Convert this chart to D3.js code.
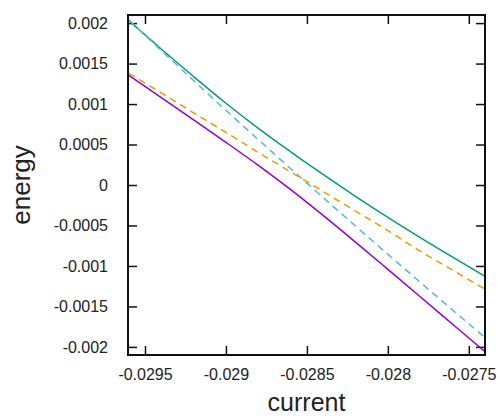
<!DOCTYPE html>
<html>
<head>
<meta charset="utf-8">
<script src="https://cdn.jsdelivr.net/npm/d3@7"></script>
<style>
  body { margin: 0; background: #fff; }
  text { font-family: "Liberation Sans", Arial, sans-serif; fill: #222; }
</style>
</head>
<body>
<div id="chart"></div>
<script>
// x positions (current)
var current = [-0.0296, -0.0294, -0.0292, -0.0290, -0.0288, -0.0286,
               -0.0284, -0.0282, -0.0280, -0.0278, -0.0276, -0.0274];

// series
var upper   = [0.00203, 0.00168, 0.00134, 0.00101, 0.0007, 0.00041,
               0.00013, -0.00014, -0.0004, -0.00065, -0.00089, -0.00113];
var lower   = [0.001355, 0.00108, 0.000805, 0.000527, 0.000242, -0.000058,
               -0.000376, -0.000706, -0.001042, -0.00138, -0.00172, -0.00206];
var diabA   = [0.00204, 0.001662, 0.00129, 0.000923, 0.00056, 0.000201,
               -0.000155, -0.000507, -0.000856, -0.001202, -0.001545, -0.001885];
var diabB   = [0.00138, 0.001139, 0.000891, 0.00065, 0.000402, 0.000161,
               -0.00008, -0.000322, -0.000563, -0.000817, -0.001052, -0.001287];

var xTicks = [-0.0295, -0.029, -0.0285, -0.028, -0.0275];
var xTickLabels = ["-0.0295", "-0.029", "-0.0285", "-0.028", "-0.0275"];
var yTicks = [0.002, 0.0015, 0.001, 0.0005, 0, -0.0005, -0.001, -0.0015, -0.002];
var yTickLabels = ["0.002", "0.0015", "0.001", "0.0005", "0", "-0.0005", "-0.001", "-0.0015", "-0.002"];

var width = 500, height = 416;
var margin = {left: 128, right: 15, top: 15, bottom: 61};
var plotW = width - margin.left - margin.right;
var plotH = height - margin.top - margin.bottom;

var svg = d3.select('#chart').append('svg')
  .attr('width', width).attr('height', height);

var x = d3.scaleLinear().domain([-0.029605, -0.0274]).range([0, plotW]);
var y = d3.scaleLinear().domain([-0.0021, 0.0021]).range([plotH, 0]);

var g = svg.append('g').attr('transform', 'translate(' + margin.left + ',' + margin.top + ')');

// clip so lines stay inside the frame
g.append('clipPath').attr('id', 'clip')
  .append('rect').attr('width', plotW).attr('height', plotH);

var tickLen = 9;

// ticks on all four sides, pointing inward
function xFmt(d) { return xTickLabels[xTicks.indexOf(d)]; }
function yFmt(d) { return yTickLabels[yTicks.indexOf(d)]; }

var xAxis = g.append('g').attr('transform', 'translate(0,' + plotH + ')')
  .call(d3.axisBottom(x).tickValues(xTicks).tickFormat(xFmt).tickSizeInner(-tickLen).tickSizeOuter(0).tickPadding(14));
var xTop = g.append('g')
  .call(d3.axisTop(x).tickValues(xTicks).tickFormat('').tickSizeInner(-tickLen).tickSizeOuter(0));
var yAxis = g.append('g')
  .call(d3.axisLeft(y).tickValues(yTicks).tickFormat(yFmt).tickSizeInner(-tickLen).tickSizeOuter(0).tickPadding(20));
var yRight = g.append('g').attr('transform', 'translate(' + plotW + ',0)')
  .call(d3.axisRight(y).tickValues(yTicks).tickFormat('').tickSizeInner(-tickLen).tickSizeOuter(0));

[xAxis, xTop, yAxis, yRight].forEach(function (a) {
  a.select('.domain').remove();
  a.selectAll('.tick line').attr('stroke', '#111').attr('stroke-width', 1.5);
  a.selectAll('.tick text').attr('font-size', 16).attr('fill', '#222')
    .style('font-family', '"Liberation Sans", Arial, sans-serif');
});

var line = d3.line()
  .x(function (d) { return x(d[0]); })
  .y(function (d) { return y(d[1]); })
  .curve(d3.curveMonotoneX);

var series = [
  {vals: lower, color: '#9400d3', dash: null},
  {vals: upper, color: '#009e73', dash: null},
  {vals: diabA, color: '#56b4e9', dash: '7,5'},
  {vals: diabB, color: '#e69f00', dash: '7,5'}
];

var lines = g.append('g').attr('clip-path', 'url(#clip)');
series.forEach(function (s) {
  lines.append('path')
    .datum(current.map(function (c, i) { return [c, s.vals[i]]; }))
    .attr('fill', 'none')
    .attr('stroke', s.color)
    .attr('stroke-width', 1.5)
    .attr('stroke-dasharray', s.dash)
    .attr('d', line);
});

// frame
g.append('rect').attr('width', plotW).attr('height', plotH)
  .attr('fill', 'none').attr('stroke', '#111').attr('stroke-width', 2);

// axis titles
svg.append('text')
  .attr('x', margin.left + plotW / 2).attr('y', 410.5)
  .attr('text-anchor', 'middle').attr('font-size', 25)
  .text('current');

svg.append('text')
  .attr('transform', 'translate(30,' + (margin.top + plotH / 2) + ') rotate(-90)')
  .attr('text-anchor', 'middle').attr('font-size', 26)
  .text('energy');
</script>
</body>
</html>
